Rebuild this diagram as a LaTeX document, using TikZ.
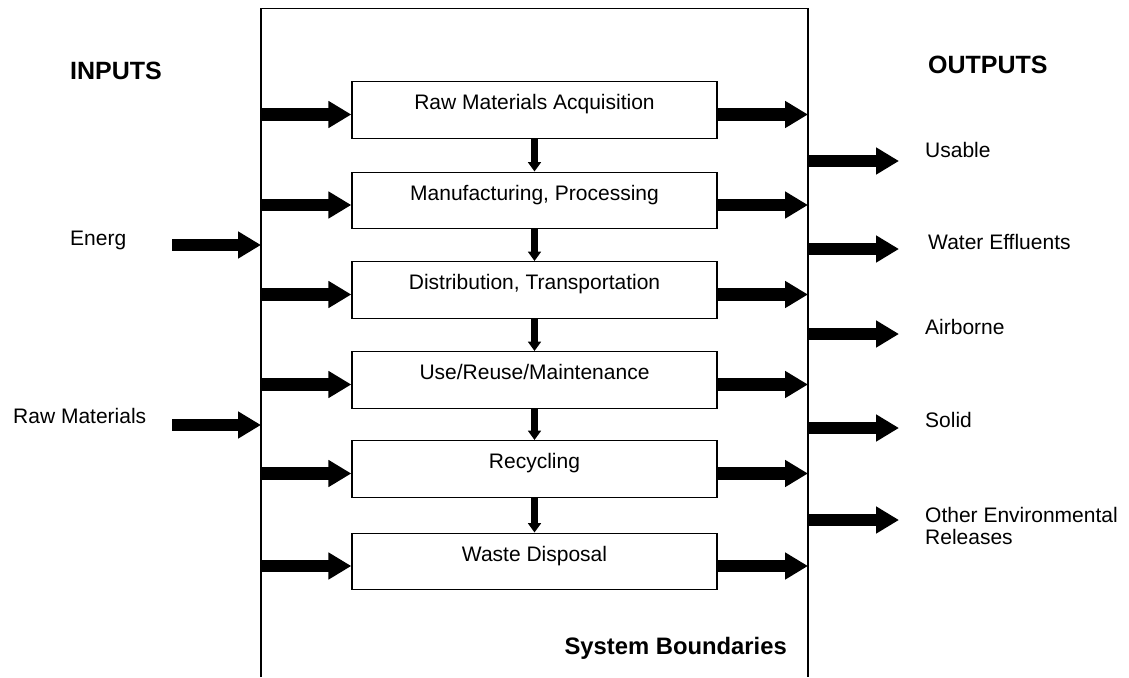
\documentclass[tikz,border=0pt]{standalone}
\usepackage{fontspec}
\setmainfont{Liberation Sans}
\usetikzlibrary{arrows.meta}
\begin{document}
\begin{tikzpicture}[x=1pt,y=-1pt,
  stage/.style={draw, line width=1.3pt, minimum width=365pt, inner xsep=0pt,
    inner ysep=0pt, text height=28pt, text depth=28.5pt, anchor=north,
    font=\fontsize{21}{24}\selectfont},
  flow/.style={line width=12.7pt, -{Triangle[length=23pt,width=25.7pt]}},
  link/.style={line width=7.3pt, -{Triangle[length=9.3pt,width=12.7pt]}},
  lbl/.style={anchor=base west, inner sep=0pt, font=\fontsize{21}{24}\selectfont},
  head/.style={anchor=base west, inner sep=0pt, font=\fontsize{25}{30}\selectfont\bfseries},
  boundary/.style={line width=1.5pt}]
\useasboundingbox (0,0) rectangle (1129,677);

% system boundary (open at the bottom)
\draw[boundary] (261,677) -- (261,8.5) -- (808,8.5) -- (808,677);
\coordinate (L) at (261,0);
\coordinate (R) at (808,0);
\coordinate (Lout) at (172,0);
\coordinate (Rout) at (899,0);

% life-cycle stages
\node[stage] (b1) at (534.5,81)    {Raw Materials Acquisition};
\node[stage] (b2) at (534.5,171.5) {Manufacturing, Processing};
\node[stage] (b3) at (534.5,261)   {Distribution, Transportation};
\node[stage] (b4) at (534.5,351)   {Use/Reuse/Maintenance};
\node[stage] (b5) at (534.5,440)   {Recycling};
\node[stage] (b6) at (534.5,532.5) {Waste Disposal};

% flow rows through each stage
\foreach \i/\y in {1/114.5,2/205,3/294.5,4/384.5,5/473.5,6/566}{
  \coordinate (r\i) at (0,\y);
  \draw[flow] (L |- r\i) -- (b\i.west |- r\i);
  \draw[flow] (b\i.east |- r\i) -- (R |- r\i);
}

% stage to stage
\foreach \a/\b in {1/2,2/3,3/4,4/5,5/6}{
  \draw[link] (b\a.south) -- (b\b.north);
}

% inputs
\node[head] (inputs) at (70,79) {INPUTS};
\node[lbl] (energy) at (70,245) {Energ};
\node[lbl] (raw) at (13,423) {Raw Materials};
\coordinate (ie) at (0,245);
\coordinate (ir) at (0,425);
\draw[flow] (Lout |- ie) -- (L |- ie);
\draw[flow] (Lout |- ir) -- (L |- ir);

% outputs
\node[head] (outputs) at (928,74) {OUTPUTS};
\node[lbl] (usable) at (925,157) {Usable};
\node[lbl] (water) at (928,249) {Water Effluents};
\node[lbl] (air) at (925,334) {Airborne};
\node[lbl] (solid) at (925,427) {Solid};
\node[lbl] (other) at (925,522) {Other Environmental};
\node[lbl] (other2) at (925,544) {Releases};
\foreach \n/\y in {o1/161,o2/249,o3/334,o4/428,o5/520}{
  \coordinate (\n) at (0,\y);
  \draw[flow] (R |- \n) -- (Rout |- \n);
}

\node[anchor=base east, inner sep=0pt, font=\fontsize{23.8}{28}\selectfont\bfseries]
  (sysb) at (787,654) {System Boundaries};
\end{tikzpicture}
\end{document}
